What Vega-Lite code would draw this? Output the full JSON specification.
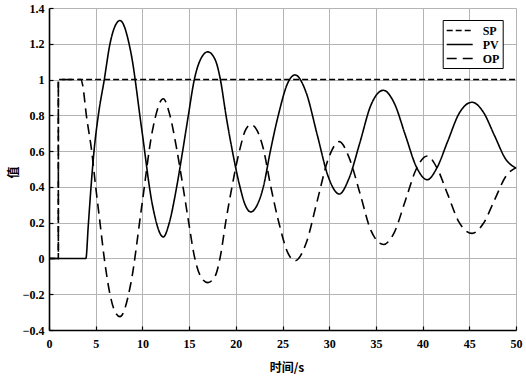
{
  "$schema": "https://vega.github.io/schema/vega-lite/v6.json",
  "width": 467,
  "height": 322,
  "autosize": {"type": "none"},
  "padding": {"left": 49, "top": 8, "right": 10, "bottom": 46},
  "background": "white",
  "view": {"stroke": null},
  "config": {
    "axis": {
      "labelFont": "Liberation Serif",
      "labelFontWeight": "bold",
      "labelFontSize": 12,
      "labelColor": "black",
      "labelFlush": false,
      "gridColor": "#b4b4b4",
      "gridWidth": 1,
      "gridOpacity": 1,
      "domainColor": "black",
      "domainWidth": 1.6,
      "tickColor": "black",
      "tickWidth": 1.2,
      "tickSize": -4,
      "titleFont": "Noto Sans CJK SC",
      "titleFontWeight": "bold",
      "titleFontSize": 12,
      "titleColor": "black"
    }
  },
  "data": {
    "values": [
      {"t": 0, "v": 0, "s": "SP"},
      {"t": 1, "v": 0, "s": "SP"},
      {"t": 1.001, "v": 1, "s": "SP"},
      {"t": 50, "v": 1, "s": "SP"},

      {"t": 0, "v": 0, "s": "PV"},
      {"t": 3.95, "v": 0, "s": "PV"},
      {"t": 4.2, "v": 0.18, "s": "PV"},
      {"t": 4.5, "v": 0.4, "s": "PV"},
      {"t": 4.82, "v": 0.6, "s": "PV"},
      {"t": 5.28, "v": 0.8, "s": "PV"},
      {"t": 5.92, "v": 1.0, "s": "PV"},
      {"t": 6.53, "v": 1.2, "s": "PV"},
      {"t": 7.0, "v": 1.29, "s": "PV"},
      {"t": 7.6, "v": 1.33, "s": "PV"},
      {"t": 8.76, "v": 1.153, "s": "PV"},
      {"t": 9.92, "v": 0.725, "s": "PV"},
      {"t": 11.08, "v": 0.297, "s": "PV"},
      {"t": 12.24, "v": 0.12, "s": "PV"},
      {"t": 12.88, "v": 0.2, "s": "PV"},
      {"t": 13.67, "v": 0.4, "s": "PV"},
      {"t": 14.31, "v": 0.6, "s": "PV"},
      {"t": 14.92, "v": 0.8, "s": "PV"},
      {"t": 15.56, "v": 1.0, "s": "PV"},
      {"t": 16.2, "v": 1.11, "s": "PV"},
      {"t": 17.0, "v": 1.155, "s": "PV"},
      {"t": 17.8, "v": 1.11, "s": "PV"},
      {"t": 18.35, "v": 1.0, "s": "PV"},
      {"t": 18.95, "v": 0.8, "s": "PV"},
      {"t": 19.6, "v": 0.61, "s": "PV"},
      {"t": 20.4, "v": 0.41, "s": "PV"},
      {"t": 21.0, "v": 0.3, "s": "PV"},
      {"t": 21.6, "v": 0.26, "s": "PV"},
      {"t": 22.3, "v": 0.3, "s": "PV"},
      {"t": 22.95, "v": 0.4, "s": "PV"},
      {"t": 23.7, "v": 0.6, "s": "PV"},
      {"t": 24.55, "v": 0.8, "s": "PV"},
      {"t": 25.6, "v": 0.985, "s": "PV"},
      {"t": 26.34, "v": 1.026, "s": "PV"},
      {"t": 27.525, "v": 0.9285, "s": "PV"},
      {"t": 28.71, "v": 0.693, "s": "PV"},
      {"t": 29.895, "v": 0.4575, "s": "PV"},
      {"t": 31.08, "v": 0.36, "s": "PV"},
      {"t": 32.1, "v": 0.445, "s": "PV"},
      {"t": 33.3, "v": 0.65, "s": "PV"},
      {"t": 34.45, "v": 0.855, "s": "PV"},
      {"t": 35.8, "v": 0.94, "s": "PV"},
      {"t": 36.975, "v": 0.867, "s": "PV"},
      {"t": 38.15, "v": 0.69, "s": "PV"},
      {"t": 39.325, "v": 0.513, "s": "PV"},
      {"t": 40.5, "v": 0.44, "s": "PV"},
      {"t": 41.5, "v": 0.503, "s": "PV"},
      {"t": 42.7, "v": 0.6565, "s": "PV"},
      {"t": 43.9, "v": 0.81, "s": "PV"},
      {"t": 45.3, "v": 0.873, "s": "PV"},
      {"t": 46.5, "v": 0.818, "s": "PV"},
      {"t": 47.7, "v": 0.6865, "s": "PV"},
      {"t": 48.9, "v": 0.555, "s": "PV"},
      {"t": 50, "v": 0.505, "s": "PV"},

      {"t": 0, "v": 0, "s": "OP"},
      {"t": 1, "v": 0, "s": "OP"},
      {"t": 1.001, "v": 1, "s": "OP"},
      {"t": 3.4, "v": 1, "s": "OP"},
      {"t": 3.6, "v": 0.97, "s": "OP"},
      {"t": 4.0, "v": 0.8, "s": "OP"},
      {"t": 4.57, "v": 0.6, "s": "OP"},
      {"t": 5.0, "v": 0.4, "s": "OP"},
      {"t": 5.46, "v": 0.2, "s": "OP"},
      {"t": 5.92, "v": 0.0, "s": "OP"},
      {"t": 6.53, "v": -0.2, "s": "OP"},
      {"t": 7.0, "v": -0.29, "s": "OP"},
      {"t": 7.6, "v": -0.325, "s": "OP"},
      {"t": 8.76, "v": -0.14, "s": "OP"},
      {"t": 9.92, "v": 0.288, "s": "OP"},
      {"t": 11.08, "v": 0.716, "s": "OP"},
      {"t": 12.24, "v": 0.893, "s": "OP"},
      {"t": 12.88, "v": 0.813, "s": "OP"},
      {"t": 13.67, "v": 0.613, "s": "OP"},
      {"t": 14.31, "v": 0.413, "s": "OP"},
      {"t": 14.92, "v": 0.213, "s": "OP"},
      {"t": 15.56, "v": 0.013, "s": "OP"},
      {"t": 16.2, "v": -0.097, "s": "OP"},
      {"t": 17.0, "v": -0.135, "s": "OP"},
      {"t": 17.8, "v": -0.097, "s": "OP"},
      {"t": 18.35, "v": 0.013, "s": "OP"},
      {"t": 18.95, "v": 0.213, "s": "OP"},
      {"t": 19.6, "v": 0.403, "s": "OP"},
      {"t": 20.4, "v": 0.603, "s": "OP"},
      {"t": 21.0, "v": 0.713, "s": "OP"},
      {"t": 21.6, "v": 0.748, "s": "OP"},
      {"t": 22.3, "v": 0.713, "s": "OP"},
      {"t": 22.95, "v": 0.613, "s": "OP"},
      {"t": 23.7, "v": 0.413, "s": "OP"},
      {"t": 24.55, "v": 0.213, "s": "OP"},
      {"t": 25.6, "v": 0.028, "s": "OP"},
      {"t": 26.34, "v": -0.013, "s": "OP"},
      {"t": 27.525, "v": 0.0845, "s": "OP"},
      {"t": 28.71, "v": 0.32, "s": "OP"},
      {"t": 29.895, "v": 0.5555, "s": "OP"},
      {"t": 31.08, "v": 0.653, "s": "OP"},
      {"t": 32.1, "v": 0.568, "s": "OP"},
      {"t": 33.3, "v": 0.363, "s": "OP"},
      {"t": 34.45, "v": 0.158, "s": "OP"},
      {"t": 35.8, "v": 0.078, "s": "OP"},
      {"t": 36.975, "v": 0.146, "s": "OP"},
      {"t": 38.15, "v": 0.323, "s": "OP"},
      {"t": 39.325, "v": 0.5, "s": "OP"},
      {"t": 40.5, "v": 0.573, "s": "OP"},
      {"t": 41.5, "v": 0.51, "s": "OP"},
      {"t": 42.7, "v": 0.3565, "s": "OP"},
      {"t": 43.9, "v": 0.203, "s": "OP"},
      {"t": 45.3, "v": 0.14, "s": "OP"},
      {"t": 46.5, "v": 0.195, "s": "OP"},
      {"t": 47.7, "v": 0.3265, "s": "OP"},
      {"t": 48.9, "v": 0.458, "s": "OP"},
      {"t": 50, "v": 0.508, "s": "OP"}
    ]
  },
  "mark": {"type": "line", "interpolate": "monotone", "strokeWidth": 1.6, "color": "black"},
  "encoding": {
    "x": {
      "field": "t",
      "type": "quantitative",
      "scale": {"domain": [0, 50], "nice": false, "zero": false},
      "axis": {
        "values": [0, 5, 10, 15, 20, 25, 30, 35, 40, 45, 50],
        "title": "时间/s",
        "labelPadding": 12,
        "titleX": 237.5,
        "titleY": 37,
        "titleBaseline": "middle",
        "titleAlign": "center"
      }
    },
    "y": {
      "field": "v",
      "type": "quantitative",
      "scale": {"domain": [-0.4, 1.4], "nice": false, "zero": false},
      "axis": {
        "values": [-0.4, -0.2, 0, 0.2, 0.4, 0.6, 0.8, 1, 1.2, 1.4],
        "format": "~g",
        "title": "值",
        "labelPadding": 9,
        "titleX": -36,
        "titleY": 164,
        "titleBaseline": "middle",
        "titleAlign": "center",
        "titleAngle": -90
      }
    },
    "strokeDash": {
      "field": "s",
      "type": "nominal",
      "scale": {"domain": ["SP", "PV", "OP"], "range": [[6, 3], [1, 0], [10, 6]]},
      "legend": {
        "title": null,
        "orient": "none",
        "legendX": 393.7,
        "legendY": 12,
        "strokeColor": "black",
        "fillColor": "white",
        "padding": 3,
        "rowPadding": 0,
        "symbolType": "M-1,0L3,0",
        "symbolSize": 169,
        "symbolStrokeWidth": 1.6,
        "symbolStrokeColor": "black",
        "symbolFillColor": "transparent",
        "labelOffset": 22,
        "labelFont": "Liberation Serif",
        "labelFontWeight": "bold",
        "labelFontSize": 12,
        "labelColor": "black"
      }
    }
  }
}
